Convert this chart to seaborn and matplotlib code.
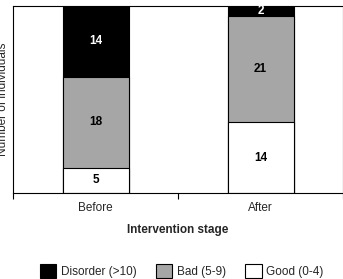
import matplotlib
matplotlib.use("Agg")
import matplotlib.pyplot as plt
import seaborn as sns
import numpy as np
import pandas as pd
from matplotlib.patches import Patch

stages = ["Before", "After"]
good = [5, 14]
bad = [18, 21]
disorder = [14, 2]
series_names = ["Disorder (>10)", "Bad (5-9)", "Good (0-4)"]
colors = ["#000000", "#a6a6a6", "#ffffff"]

sns.set_style("white")
plt.rcParams['font.family'] = ['Liberation Sans', 'DejaVu Sans']

fig = plt.figure(figsize=(3.43, 2.79), dpi=100)
ax = fig.add_axes([13/343, 1-193/279, 1-13/343, (193-6)/279])

g = np.array(good)
b = np.array(bad)
d = np.array(disorder)
layers = [("Disorder (>10)", g + b + d, colors[0]),
          ("Bad (5-9)", g + b, colors[1]),
          ("Good (0-4)", g, colors[2])]
for name, vals, c in layers:
    df = pd.DataFrame({"stage": stages, "value": vals})
    sns.barplot(data=df, x="stage", y="value", color=c, width=0.4,
                edgecolor="black", linewidth=0.8, saturation=1, ax=ax)

# segment labels
for i in range(len(stages)):
    segs = [(0, g[i], "black"), (g[i], b[i], "black"), (g[i] + b[i], d[i], "white")]
    for start, h, tc in segs:
        ax.text(i, start + h / 2, str(h), ha="center", va="center",
                fontsize=8.5, fontweight="bold", color=tc)

ax.set_ylim(0, 37)
ax.set_xlim(-0.5, 1.5)
ax.set_yticks([])
ax.set_xticks([0, 1])
ax.set_xticklabels(stages, fontsize=8.5)
ax.tick_params(axis="x", which="major", length=0, pad=6.5)
ax.set_xticks([-0.5, 0.5, 1.5], minor=True)
ax.tick_params(axis="x", which="minor", length=4, width=0.8, color="black", bottom=True)
for s in ["left", "bottom", "top", "right"]:
    ax.spines[s].set_color("black")
    ax.spines[s].set_linewidth(0.8)
ax.set_xlabel("Intervention stage", fontsize=8.5, fontweight="bold", labelpad=7)
ax.set_ylabel("Number of individuals", fontsize=8.5)
ax.yaxis.set_label_coords(-0.012, 0.5)

handles = [Patch(facecolor=c, edgecolor="black", linewidth=0.8) for c in colors]
fig.legend(handles, series_names, loc="lower center", bbox_to_anchor=(0.53, -0.035),
           ncol=3, frameon=False, fontsize=8.5, handlelength=1.4, handleheight=1.4,
           handletextpad=0.4, columnspacing=1.6)

fig.savefig("out.png", dpi=100)
